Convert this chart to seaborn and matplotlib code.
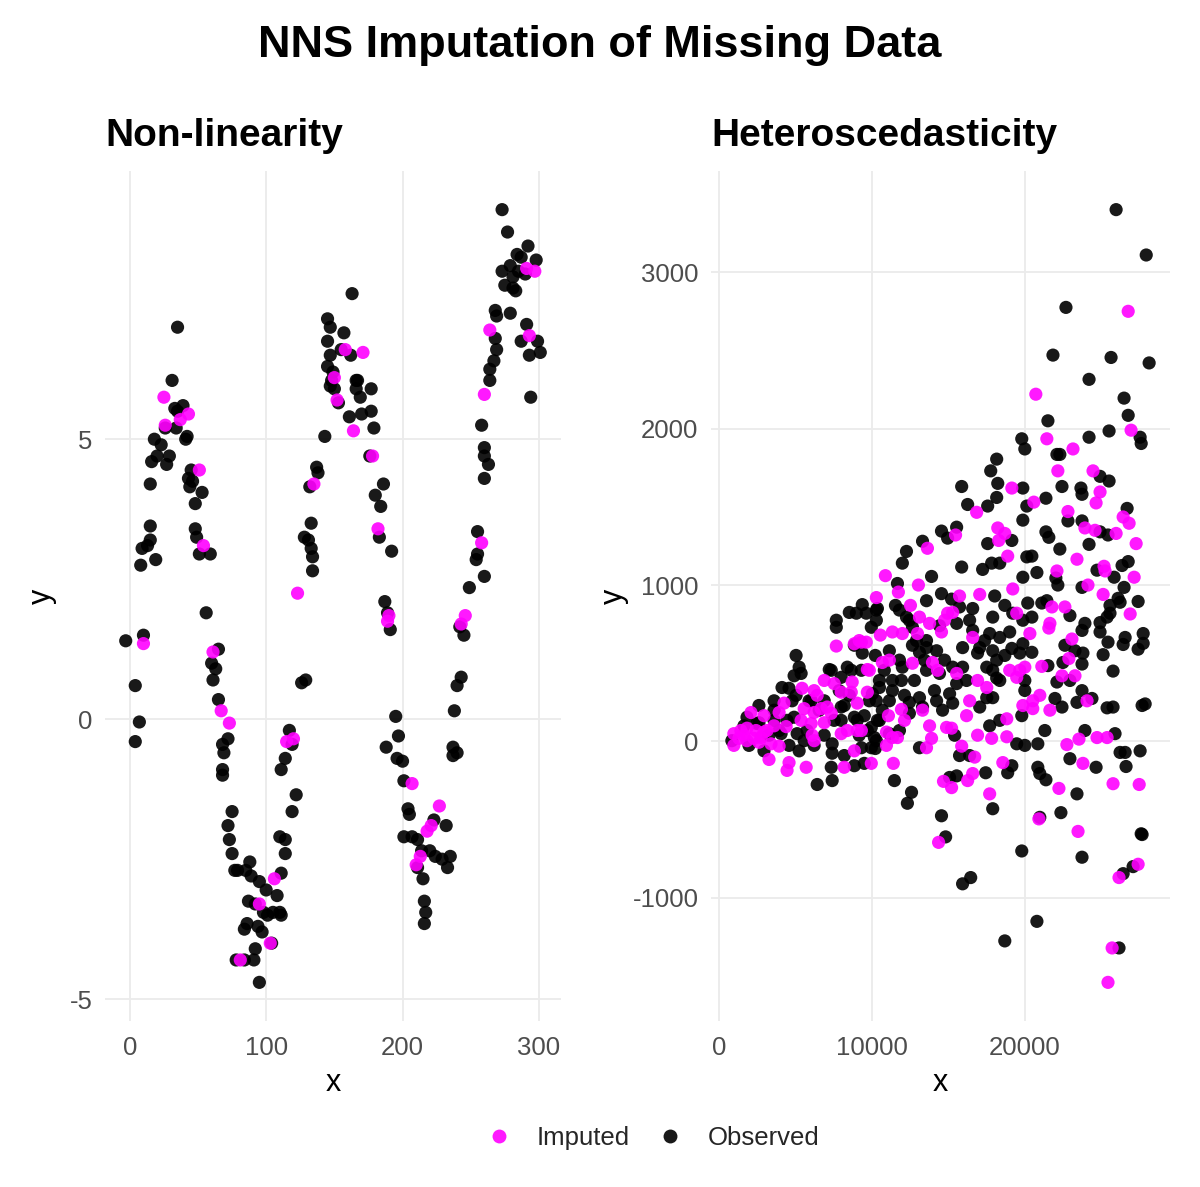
import matplotlib
matplotlib.use("Agg")
import matplotlib.pyplot as plt
import seaborn as sns
import pandas as pd
from matplotlib.ticker import MultipleLocator, FuncFormatter
from matplotlib.lines import Line2D

# ---------------- Data: Non-linearity panel ----------------
nl_obs_x = [-3, 4, 4, 7, 8, 9, 10, 13, 15, 15, 15, 16, 18, 19, 20, 23, 26, 27, 29, 31, 33, 34, 35, 35, 39, 41, 42, 43, 44, 45,
            46, 48, 48, 49, 51, 53, 56, 59, 60, 61, 65, 63, 65, 68, 69, 68, 68, 72, 72, 73, 75, 75, 77, 79, 78, 84, 85, 84, 86, 87,
            88, 89, 91, 92, 92, 94, 95, 95, 97, 98, 100, 101, 104, 105, 108, 110, 111, 110, 111, 114, 114, 111, 114, 119, 117, 119, 122, 126, 129, 128,
            131, 132, 133, 133, 134, 134, 137, 138, 143, 145, 147, 145, 145, 147, 148, 149, 150, 147, 153, 155, 157, 161, 163, 162, 166, 166, 167, 169, 170, 176,
            177, 177, 179, 180, 183, 184, 186, 187, 188, 189, 191, 192, 195, 197, 196, 200, 201, 201, 204, 205, 207, 211, 211, 214, 215, 216, 217, 216, 220, 223,
            224, 229, 232, 233, 235, 238, 237, 237, 240, 240, 243, 242, 245, 249, 254, 255, 260, 255, 260, 260, 260, 258, 263, 264, 264, 267, 269, 268, 268, 269,
            273, 273, 275, 277, 279, 281, 279, 281, 283, 284, 285, 287, 287, 290, 291, 292, 293, 294, 298, 301, 299]
nl_obs_y = [1.4, 0.6, -0.4, -0.05, 2.75, 3.05, 1.5, 3.1, 3.45, 4.2, 3.2, 4.6, 5.0, 2.85, 4.7, 4.9, 5.2, 4.55, 4.7, 6.05, 5.55, 5.2, 7.0, 5.5, 5.6, 5.0, 5.05, 4.3, 4.15, 4.45,
            4.25, 3.85, 3.4, 3.25, 2.95, 4.05, 1.9, 2.95, 1.0, 0.7, 1.25, 0.9, 0.35, -0.45, -0.6, -1.0, -0.9, -0.35, -1.9, -2.15, -1.65, -2.4, -2.7, -2.7, -4.3, -4.3, -2.7, -3.75, -3.65, -3.25,
            -2.55, -2.8, -4.3, -4.1, -3.3, -3.7, -2.9, -4.7, -3.8, -3.45, -3.05, -3.5, -4.0, -3.45, -3.15, -3.45, -3.5, -2.1, -2.75, -2.4, -2.15, -0.9, -0.7, -0.45, -0.2, -1.65, -1.35, 0.65, 0.7, 3.25,
            3.2, 4.15, 3.5, 3.05, 2.9, 2.65, 4.5, 4.4, 5.05, 7.15, 7.0, 6.75, 6.3, 5.95, 6.05, 6.2, 5.9, 6.5, 5.65, 6.6, 6.9, 5.4, 7.6, 6.5, 6.05, 5.9, 6.05, 5.75, 5.45, 4.7,
            5.9, 5.5, 5.2, 4.0, 3.25, 3.8, 4.2, 2.1, -0.5, 1.9, 1.6, 3.0, 0.05, -0.3, -0.7, -0.75, -1.1, -2.1, -1.6, -1.7, -2.1, -2.65, -2.15, -2.35, -2.85, -3.25, -3.45, -3.65, -2.35, -1.8,
            -2.45, -2.5, -1.9, -2.65, -2.45, 0.15, -0.5, -0.65, -0.6, 0.6, 0.75, 1.65, 1.5, 2.35, 2.85, 2.95, 2.55, 3.35, 4.3, 4.7, 4.85, 5.25, 4.55, 6.05, 6.25, 6.4, 6.6, 6.8, 7.3, 7.2,
            8.0, 9.1, 7.75, 8.7, 7.25, 7.9, 8.1, 7.7, 7.65, 8.3, 8.0, 6.75, 8.25, 7.95, 7.05, 8.45, 6.5, 5.75, 8.2, 6.55, 6.75]
nl_imp_x = [10, 25, 26, 37, 43, 51, 54, 61, 67, 73, 81, 95, 103, 106, 115, 120, 123, 135, 150, 152, 158, 164, 171, 178, 182,
            190, 189, 207, 210, 213, 218, 221, 227, 243, 246, 258, 260, 264, 291, 293, 297]
nl_imp_y = [1.35, 5.75, 5.25, 5.35, 5.45, 4.45, 3.1, 1.2, 0.15, -0.07, -4.3, -3.3, -4.0, -2.85, -0.4, -0.35, 2.25, 4.2, 6.1, 5.7, 6.6, 5.15, 6.55, 4.7, 3.4,
            1.85, 1.75, -1.15, -2.6, -2.45, -2.0, -1.9, -1.55, 1.7, 1.85, 3.15, 5.8, 6.95, 8.05, 6.85, 8.0]

# ---------------- Data: Heteroscedasticity panel ----------------
het_obs = [
    (25980, 3400), (27950, 3110), (22700, 2775), (21850, 2470), (25650, 2455), (28140, 2420), (24210, 2315), (26500, 2195),
    (26770, 2085), (21520, 2050), (25520, 1985), (24210, 1945), (27550, 1945), (27620, 1905), (19810, 1935), (20010, 1870),
    (22110, 1835), (22300, 1835), (24930, 1695), (25520, 1665), (22440, 1630), (23680, 1620), (23750, 1580), (19880, 1620),
    (20140, 1505), (21390, 1555), (26700, 1490), (22830, 1410), (19880, 1415), (23750, 1410), (24930, 1340), (25450, 1320),
    (21390, 1340), (21580, 1305), (24210, 1260), (22300, 1230), (20470, 1185), (26770, 1150), (26370, 1125), (24730, 1095),
    (20800, 1080), (19880, 1050), (25850, 1050), (22040, 1045), (22170, 1000), (23750, 985), (26500, 985), (26110, 915),
    (27420, 895), (20200, 885), (21120, 885), (25580, 870), (21450, 900), (22960, 805), (20470, 795), (23940, 755),
    (23750, 710), (24930, 760), (25390, 795), (25580, 820), (26240, 890), (24930, 700), (25450, 635), (26570, 665),
    (26440, 620), (27750, 690), (27750, 627), (27420, 590), (22630, 615), (23290, 580), (23810, 565), (19880, 625),
    (20470, 570), (25130, 555), (22500, 505), (23750, 495), (21520, 485), (22110, 380), (22960, 390), (25780, 450),
    (20010, 390), (20010, 326), (23750, 325), (21980, 275), (22440, 220), (23420, 250), (24400, 275), (25390, 215),
    (25780, 220), (27680, 230), (27880, 240), (19810, 165), (21320, 70), (23940, 70), (25910, 50), (20010, -25),
    (20860, -15), (26240, -70), (26570, -70), (27550, -60), (22960, -110), (24670, -165), (26630, -160), (20860, -165),
    (20990, -205), (21390, -245), (23420, -335), (20990, -485), (22370, -455), (27620, -590), (27680, -595), (19810, -700),
    (23750, -740), (27090, -800), (26440, -845), (20800, -1150), (26170, -1320),
    (12600, -325), (12330, -395), (14560, -475), (14830, -610), (16470, -870), (15940, -910), (18700, -1275), (15550, -220),
    (17450, -200), (17910, -430), (18890, -200),
    (15880, 1630), (18240, 1650), (16270, 1515), (17580, 1505), (18170, 1560), (14560, 1345), (14960, 1300), (15550, 1370),
    (19160, 1285), (17580, 1265), (13320, 1280), (12270, 1215), (12000, 1140), (15880, 1115), (17250, 1100), (17840, 1140),
    (18370, 1140), (20140, 1180), (13910, 1055), (11680, 1010), (14560, 945), (18040, 930), (13580, 900), (15220, 910),
    (9380, 875), (10370, 850), (11550, 870), (16600, 850), (18700, 870), (15550, 755), (17910, 795), (9970, 730),
    (12270, 795), (12660, 730), (19880, 775), (17710, 690), (18370, 665), (19020, 700), (12660, 615), (13580, 645),
    (13120, 570), (15940, 600), (16920, 565), (17910, 580), (18170, 520), (17910, 455), (18170, 405), (19160, 595),
    (9380, 565), (10230, 550), (11150, 580), (11940, 390), (12790, 390), (11350, 325), (15940, 475), (15550, 370),
    (10500, 345), (10300, 260), (10690, 200), (17060, 220), (17910, 280), (12460, 250), (13320, 220), (14630, 200),
    (15290, 245), (17710, 100), (9970, 90), (10170, 25), (19480, -15), (13120, -40), (10230, -45), (15740, -90),
    (16400, -90), (19160, -155), (11480, -250), (15090, -230),
    (11810, 520), (10820, 455), (11150, 260), (12140, 295), (14100, 325), (14760, 520), (17380, 645), (18700, 550),
    (16400, 775), (14430, 740), (13450, 520), (10370, 135), (9510, 165), (11810, 70), (15420, 40), (18370, 135),
    (18170, 1805), (17780, 1730), (10300, 840), (8530, 825), (8990, 820), (7680, 775), (7680, 730),
    (8860, 615), (5050, 550), (5250, 475), (4920, 420), (5380, 435), (7220, 460), (8000, 410), (8660, 455),
    (9320, 455), (4130, 345), (4590, 340), (5050, 295), (4790, 260), (3610, 200), (3610, 134), (4460, 135),
    (7540, 135), (8000, 135), (8860, 155), (850, 5), (5120, 50), (5580, 5), (6890, 40), (7410, -15),
    (7410, -75), (7350, -165), (8860, -155), (9510, -140), (6430, -275), (7410, -250), (9970, -40),
    (2620, 120), (3280, 40), (3940, 70), (1970, -25), (4590, -25), (2950, -60), (1640, 100), (5900, 260),
    (6560, 200), (6230, -25), (5250, -60), (8200, 230), (8530, 295), (9840, 260), (7870, 325), (6890, 260),
    (8200, -90), (9180, 40), (3610, 260), (2620, 230),
    (9640, 820), (10300, 775), (11810, 840), (12460, 775), (12920, 645), (13580, 600), (14240, 580), (10500, 390),
    (10040, 305), (10500, 135), (11150, 50), (10300, 5), (13120, 280), (14240, 260), (15090, 305), (12460, 180),
    (16600, 710), (17060, 600), (17520, 475), (18370, 390), (17520, 280), (19220, 820), (19680, 565), (15740, 860),
    (14430, 435), (16200, 390), (12000, 475), (11350, 390), (13580, 455), (15290, 475),
    (4920, 155), (5770, 70), (4070, 50), (2490, 115), (1840, 155), (9050, 135), (9320, -40), (9710, 70),
    (6040, 260), (8000, 220), (7350, 455), (8400, 475),
]
het_imp = [
    (26770, 2750), (20730, 2220), (26960, 1990), (21450, 1935), (23160, 1870), (22170, 1730), (24470, 1730), (24930, 1595),
    (24670, 1525), (20600, 1530), (22830, 1470), (26440, 1435), (26830, 1395), (23940, 1365), (24600, 1350), (25980, 1330),
    (27290, 1265), (23420, 1165), (25190, 1120), (25260, 1090), (22110, 1090), (27160, 1050), (24140, 1000), (25130, 940),
    (21780, 860), (22630, 860), (21650, 755), (21580, 725), (20340, 690), (26900, 815), (23090, 655), (22890, 530),
    (20010, 475), (21120, 480), (22440, 420), (23290, 420), (20990, 295), (20530, 260), (19880, 230), (20530, 210),
    (21650, 200), (24080, 260), (22760, -20), (23550, 15), (24730, 25), (25390, 25), (23810, -140), (22240, -300),
    (25780, -270), (27490, -275), (20930, -495), (23490, -575), (27420, -785), (26170, -870), (25720, -1320), (25450, -1540),
    (14370, -645), (14690, -255), (15220, -295), (16270, -250), (16600, -205), (17710, -335), (18570, -135),
    (19160, 1620), (16860, 1465), (15480, 1320), (18240, 1365), (18700, 1330), (18300, 1285), (13640, 1235), (18890, 1185),
    (10890, 1060), (13050, 1000), (19220, 975), (10300, 920), (11740, 955), (15740, 930), (17060, 940), (12530, 870),
    (14960, 820), (15290, 825), (19480, 820), (13120, 795), (13780, 755), (14760, 775), (9180, 645), (9640, 635),
    (10560, 680), (11350, 700), (12000, 690), (12990, 690), (14560, 700), (16600, 665), (10690, 505), (11150, 520),
    (12660, 500), (13970, 505), (14300, 455), (9840, 455), (15550, 435), (19020, 455), (19680, 455), (19480, 410),
    (16920, 390), (17520, 345), (9710, 315), (16400, 260), (11940, 205), (13320, 200), (11090, 165), (12140, 135),
    (13780, 100), (14890, 90), (15220, 85), (16200, 165), (18830, 145), (9320, 70), (10960, 60), (11350, 25),
    (11680, 25), (10960, -25), (16920, 40), (17840, 20), (18830, 30), (13910, 20), (13580, -40), (15880, -30),
    (16730, -100), (9970, -140), (11410, -140),
    (7680, 610), (8860, 625), (9320, 635), (9710, 460), (5440, 340), (6230, 325), (6430, 295), (6890, 390),
    (7540, 370), (8000, 315), (8660, 315), (8720, 380), (9050, 245), (4260, 245), (3940, 185), (2100, 185),
    (2950, 165), (5580, 210), (6230, 185), (6690, 210), (7080, 220), (7350, 180), (5380, 135), (6040, 115),
    (6890, 120), (8000, 50), (8400, 70), (9050, 70), (4400, 95), (980, 50), (1440, 70), (1840, 85),
    (2430, 70), (2950, 60), (3150, 70), (1310, 20), (1840, 5), (2300, 20), (2760, 25), (3410, -15),
    (3940, -30), (6100, 40), (6230, 5), (8860, -60), (3280, -115), (4590, -135), (4460, -185), (5710, -165),
    (8200, -165), (1640, 40), (980, -25), (2620, -5), (3610, 100),
]

labels = ["Imputed", "Observed"]
colors = {"Imputed": "#FF00FF", "Observed": "#000000"}

df_nl = pd.concat([
    pd.DataFrame({"x": nl_obs_x, "y": nl_obs_y, "Type": "Observed"}),
    pd.DataFrame({"x": nl_imp_x, "y": nl_imp_y, "Type": "Imputed"}),
], ignore_index=True)
df_het = pd.concat([
    pd.DataFrame(het_obs, columns=["x", "y"]).assign(Type="Observed"),
    pd.DataFrame(het_imp, columns=["x", "y"]).assign(Type="Imputed"),
], ignore_index=True)

sns.set_theme(style="whitegrid")
plt.rcParams["font.family"] = ["Liberation Sans", "DejaVu Sans"]
plt.rcParams["axes.unicode_minus"] = False

W, H = 1200, 1187
fig = plt.figure(figsize=(W / 100, H / 100), dpi=100)
fig.patch.set_facecolor("white")
ax1 = fig.add_axes([105 / W, 1 - 1021 / H, 456 / W, 850 / H])
ax2 = fig.add_axes([711 / W, 1 - 1021 / H, 459 / W, 850 / H])

TICK = 18.5
AXT = 22
for ax, df, title in [(ax1, df_nl, "Non-linearity"), (ax2, df_het, "Heteroscedasticity")]:
    sns.scatterplot(data=df, x="x", y="y", hue="Type", palette=colors, s=90, alpha=0.9,
                    linewidth=0, edgecolor="none", legend=False, ax=ax)
    ax.set_facecolor("white")
    for sp in ax.spines.values():
        sp.set_visible(False)
    ax.grid(True, color="#EBEBEB", linewidth=1.3)
    ax.set_axisbelow(True)
    ax.tick_params(axis="both", length=0, labelsize=TICK, labelcolor="#4D4D4D")
    ax.tick_params(axis="x", pad=11)
    ax.tick_params(axis="y", pad=9)
    ax.set_title(title, loc="left", fontsize=28, fontweight="bold", pad=18, color="black")
    ax.set_xlabel("x", fontsize=AXT, color="black")
    ax.set_ylabel("y", fontsize=AXT, color="black")

ax1.xaxis.set_major_locator(MultipleLocator(100))
ax1.yaxis.set_major_locator(MultipleLocator(5))
ax2.xaxis.set_major_locator(MultipleLocator(10000))
ax2.yaxis.set_major_locator(MultipleLocator(1000))
fmt = FuncFormatter(lambda v, p: f"{v:.0f}")
for ax in (ax1, ax2):
    ax.xaxis.set_major_formatter(fmt)
    ax.yaxis.set_major_formatter(fmt)

for ax in (ax1, ax2):
    ax.xaxis.set_label_coords(0.5, -(1083 - 1021) / 850)
    ax.xaxis.label.set_va("center")
    ax.yaxis.label.set_va("center")
ax1.yaxis.set_label_coords((42 - 105) / 456, 0.5)
ax2.yaxis.set_label_coords((614 - 711) / 459, 0.5)

fig.text(0.5, 1 - 45 / H, "NNS Imputation of Missing Data", ha="center", va="center",
         fontsize=32.5, fontweight="bold", color="black")

handles = [Line2D([0], [0], marker="o", linestyle="", markersize=10, markerfacecolor=colors[l],
                  markeredgewidth=0, alpha=0.9) for l in labels]
fig.legend(handles, labels, loc="center", bbox_to_anchor=(654 / W, 1 - 1138 / H), ncol=2, frameon=False,
           fontsize=18.5, handlelength=0.8, handletextpad=1.05, columnspacing=1.2)

fig.savefig("out.png", dpi=100, facecolor="white")
